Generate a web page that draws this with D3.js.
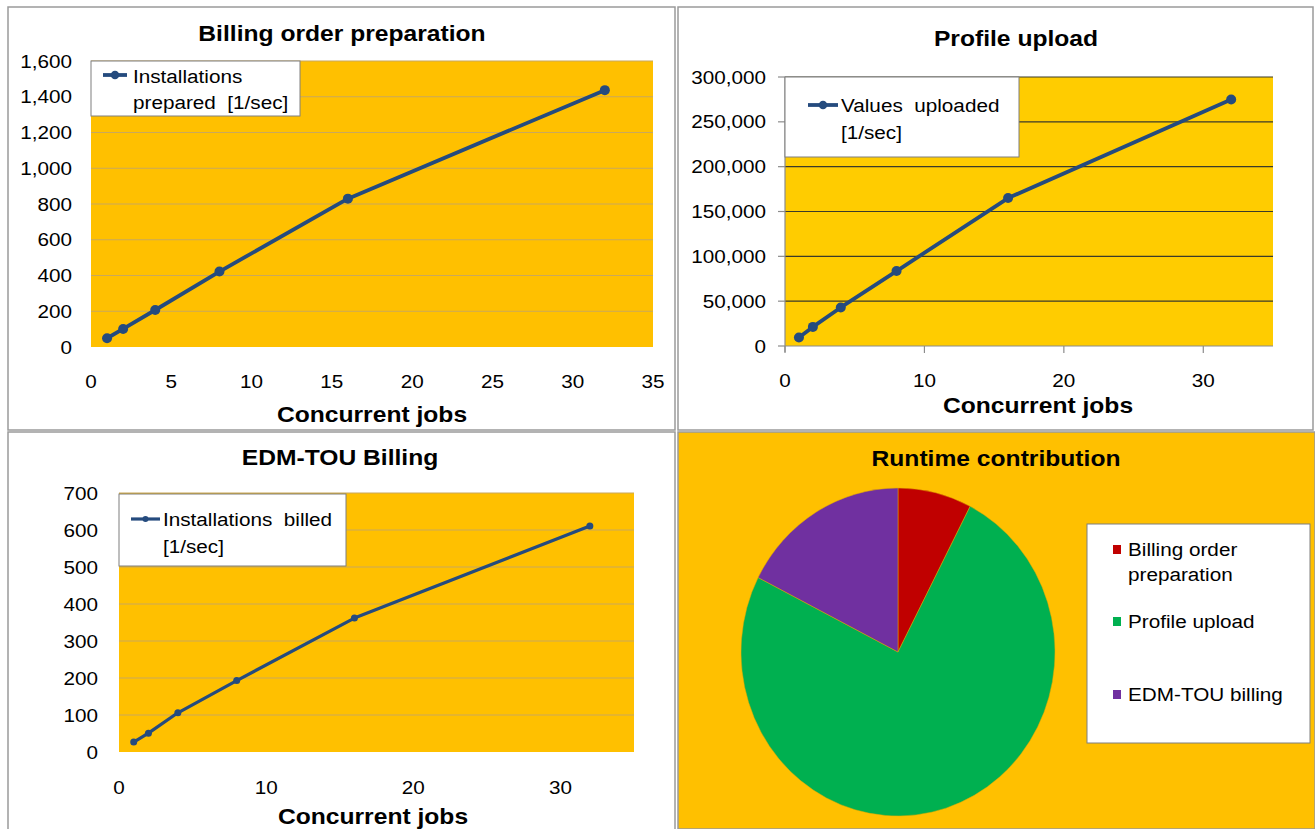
<!DOCTYPE html>
<html><head><meta charset="utf-8">
<script src="https://cdn.jsdelivr.net/npm/d3@7"></script>
<style>
body{margin:0;background:#fff}
svg{display:block}
text{font-family:"Liberation Sans",Arial,sans-serif;fill:#000}
</style>
</head><body>
<svg id="c" width="1315" height="829"></svg>
<script>
// ---------- data ----------
const jobs = [1, 2, 4, 8, 16, 32];
const installationsPrepared = [49, 101, 207, 422, 830, 1437];
const valuesUploaded = [9400, 21300, 43000, 83600, 165000, 275000];
const installationsBilled = [27, 51, 106, 193, 362, 611];

const pieLabels = ["Billing order preparation", "Profile upload", "EDM-TOU billing"];
const pieLegendLines = [["Billing order", "preparation"], ["Profile upload"], ["EDM-TOU billing"]];
const pieValues = [7.6, 74.9, 17.5];
const pieColors = ["#C00000", "#00B050", "#7030A0"];

const yTicksPrep = [0, 200, 400, 600, 800, 1000, 1200, 1400, 1600];
const xTicksPrep = [0, 5, 10, 15, 20, 25, 30, 35];
const yTicksUpload = [0, 50000, 100000, 150000, 200000, 250000, 300000];
const xTicksUpload = [0, 10, 20, 30];
const yTicksBilled = [0, 100, 200, 300, 400, 500, 600, 700];
const xTicksBilled = [0, 10, 20, 30];

const titles = ["Billing order preparation", "Profile upload", "EDM-TOU Billing", "Runtime contribution"];
const xTitle = "Concurrent jobs";
const legendPrep = ["Installations", "prepared  [1/sec]"];
const legendUpload = ["Values  uploaded", "[1/sec]"];
const legendBilled = ["Installations  billed", "[1/sec]"];

// ---------- helpers ----------
const svg = d3.select("#c");
const fmt = d3.format(",");
const SX = 1.09;

function T(g, x, y, s, o = {}) {
  const t = g.append("text")
    .attr("transform", `translate(${x},${y}) scale(${o.sx || SX},1)`)
    .attr("text-anchor", o.anchor || "start")
    .style("font-size", (o.size || 19) + "px")
    .style("font-weight", o.bold ? "bold" : "normal")
    .style("white-space", "pre")
    .text(s);
  if (o.mid) t.attr("dy", "0.35em");
  return t;
}

const LINE = "#254B7E";

function lineChart(c) {
  const g = svg.append("g");
  g.append("rect").attr("x", c.panel[0]).attr("y", c.panel[1])
    .attr("width", c.panel[2]).attr("height", c.panel[3])
    .attr("fill", "#fff").attr("stroke", "#9a9a9a").attr("stroke-width", 1.5);

  const x = d3.scaleLinear().domain([0, 35]).range([c.plot[0], c.plot[2]]);
  const y = d3.scaleLinear().domain(c.yDomain).range([c.plot[3], c.plot[1]]);

  g.append("rect").attr("x", c.plot[0]).attr("y", c.plot[1])
    .attr("width", c.plot[2] - c.plot[0]).attr("height", c.plot[3] - c.plot[1])
    .attr("fill", c.bg);

  g.selectAll(".grid").data(c.yTicks.filter(v => v > 0)).join("line")
    .attr("x1", c.plot[0]).attr("x2", c.plot[2])
    .attr("y1", d => y(d)).attr("y2", d => y(d))
    .attr("stroke", c.grid).attr("stroke-width", 1.2);

  if (c.axisLines) {
    g.append("line").attr("x1", c.plot[0]).attr("x2", c.plot[0]).attr("y1", c.plot[1]).attr("y2", c.plot[3] + 6)
      .attr("stroke", "#8c8c8c").attr("stroke-width", 1.2);
    g.append("line").attr("x1", c.plot[0]).attr("x2", c.plot[2]).attr("y1", c.plot[3]).attr("y2", c.plot[3])
      .attr("stroke", "#8c8c8c").attr("stroke-width", 1.2);
    g.selectAll(".yt").data(c.yTicks).join("line")
      .attr("x1", c.plot[0] - 7).attr("x2", c.plot[0]).attr("y1", d => y(d)).attr("y2", d => y(d))
      .attr("stroke", "#8c8c8c").attr("stroke-width", 1.2);
    g.selectAll(".xt").data(c.xTicks).join("line")
      .attr("x1", d => x(d)).attr("x2", d => x(d)).attr("y1", c.plot[3]).attr("y2", c.plot[3] + 7)
      .attr("stroke", "#8c8c8c").attr("stroke-width", 1.2);
  }

  c.yTicks.forEach(v => T(g, c.yLabelX, y(v), fmt(v), { anchor: "end", mid: true }));
  c.xTicks.forEach(v => T(g, x(v), c.xLabelY, fmt(v), { anchor: "middle", mid: true }));

  T(g, c.titlePos[0], c.titlePos[1], c.title, { anchor: "middle", bold: true, size: 22, sx: 1.12 });
  T(g, c.xTitlePos[0], c.xTitlePos[1], xTitle, { anchor: "middle", bold: true, size: 22, sx: 1.12 });

  const pts = jobs.map((j, i) => [j, c.values[i]]);
  g.append("path").datum(pts)
    .attr("d", d3.line().x(d => x(d[0])).y(d => y(d[1])))
    .attr("fill", "none").attr("stroke", LINE).attr("stroke-width", c.lw)
    .attr("stroke-linejoin", "round");
  g.selectAll(".pt").data(pts).join("circle")
    .attr("cx", d => x(d[0])).attr("cy", d => y(d[1])).attr("r", c.r).attr("fill", LINE);

  const L = c.legend;
  g.append("rect").attr("x", L.box[0]).attr("y", L.box[1]).attr("width", L.box[2]).attr("height", L.box[3])
    .attr("fill", "#fff").attr("stroke", "#7f7f7f").attr("stroke-width", 1);
  g.append("line").attr("x1", L.line[0]).attr("x2", L.line[1]).attr("y1", L.line[2]).attr("y2", L.line[2])
    .attr("stroke", LINE).attr("stroke-width", c.lw);
  g.append("circle").attr("cx", (L.line[0] + L.line[1]) / 2).attr("cy", L.line[2]).attr("r", c.r * 0.85).attr("fill", LINE);
  c.legendText.forEach((s, i) => T(g, L.textX, L.textY[i], s, { mid: true }));
}

lineChart({
  panel: [8, 7, 667, 423], plot: [91, 61, 653, 347],
  yDomain: [0, 1600], yTicks: yTicksPrep, xTicks: xTicksPrep,
  bg: "#FFC000", grid: "#C9A85C", axisLines: false,
  yLabelX: 72, xLabelY: 381,
  title: titles[0], titlePos: [342, 41], xTitlePos: [372, 422],
  values: installationsPrepared, lw: 3.8, r: 5,
  legend: { box: [91, 61, 209, 55], line: [103, 127, 75], textX: 133, textY: [76, 102] },
  legendText: legendPrep
});

lineChart({
  panel: [678, 7, 635, 423], plot: [785, 77, 1273, 346],
  yDomain: [0, 300000], yTicks: yTicksUpload, xTicks: xTicksUpload,
  bg: "#FFCC00", grid: "#3a3a2a", axisLines: true,
  yLabelX: 766, xLabelY: 380,
  title: titles[1], titlePos: [1016, 46], xTitlePos: [1038, 413],
  values: valuesUploaded, lw: 3.8, r: 5,
  legend: { box: [785, 77, 234, 80], line: [808, 838, 105], textX: 841, textY: [105, 132] },
  legendText: legendUpload
});

lineChart({
  panel: [8, 432, 667, 400], plot: [119, 493, 634, 752],
  yDomain: [0, 700], yTicks: yTicksBilled, xTicks: xTicksBilled,
  bg: "#FFC000", grid: "#C9A85C", axisLines: false,
  yLabelX: 98, xLabelY: 787,
  title: titles[2], titlePos: [340, 465], xTitlePos: [373, 824],
  values: installationsBilled, lw: 3.2, r: 3.5,
  legend: { box: [119, 494, 227, 72], line: [131, 160, 519], textX: 163, textY: [519, 546] },
  legendText: legendBilled
});

// ---------- pie ----------
(function () {
  const g = svg.append("g");
  g.append("rect").attr("x", 678).attr("y", 432).attr("width", 637).attr("height", 397)
    .attr("fill", "#FFC000").attr("stroke", "#9a9a9a").attr("stroke-width", 1.5);
  T(g, 996, 466, titles[3], { anchor: "middle", bold: true, size: 22, sx: 1.12 });

  const R = 160;
  const pie = d3.pie().sort(null).value(d => d);
  const arc = d3.arc().innerRadius(0).outerRadius(R);
  const pg = g.append("g").attr("transform", `translate(898,652) scale(${157 / R},${164 / R})`);
  pg.selectAll("path").data(pie(pieValues)).join("path")
    .attr("d", arc).attr("fill", (d, i) => pieColors[i])
    .attr("stroke", "#e0a800").attr("stroke-width", 0.5);

  g.append("rect").attr("x", 1087).attr("y", 524).attr("width", 223).attr("height", 219)
    .attr("fill", "#fff").attr("stroke", "#7f7f7f").attr("stroke-width", 1);
  const rowY = [549, 621, 694];
  pieLegendLines.forEach((lines, i) => {
    g.append("rect").attr("x", 1113).attr("y", rowY[i] - 4).attr("width", 8).attr("height", 9)
      .attr("fill", pieColors[i]);
    lines.forEach((s, k) => T(g, 1128, rowY[i] + k * 25, s, { mid: true }));
  });
})();
</script>
</body></html>
